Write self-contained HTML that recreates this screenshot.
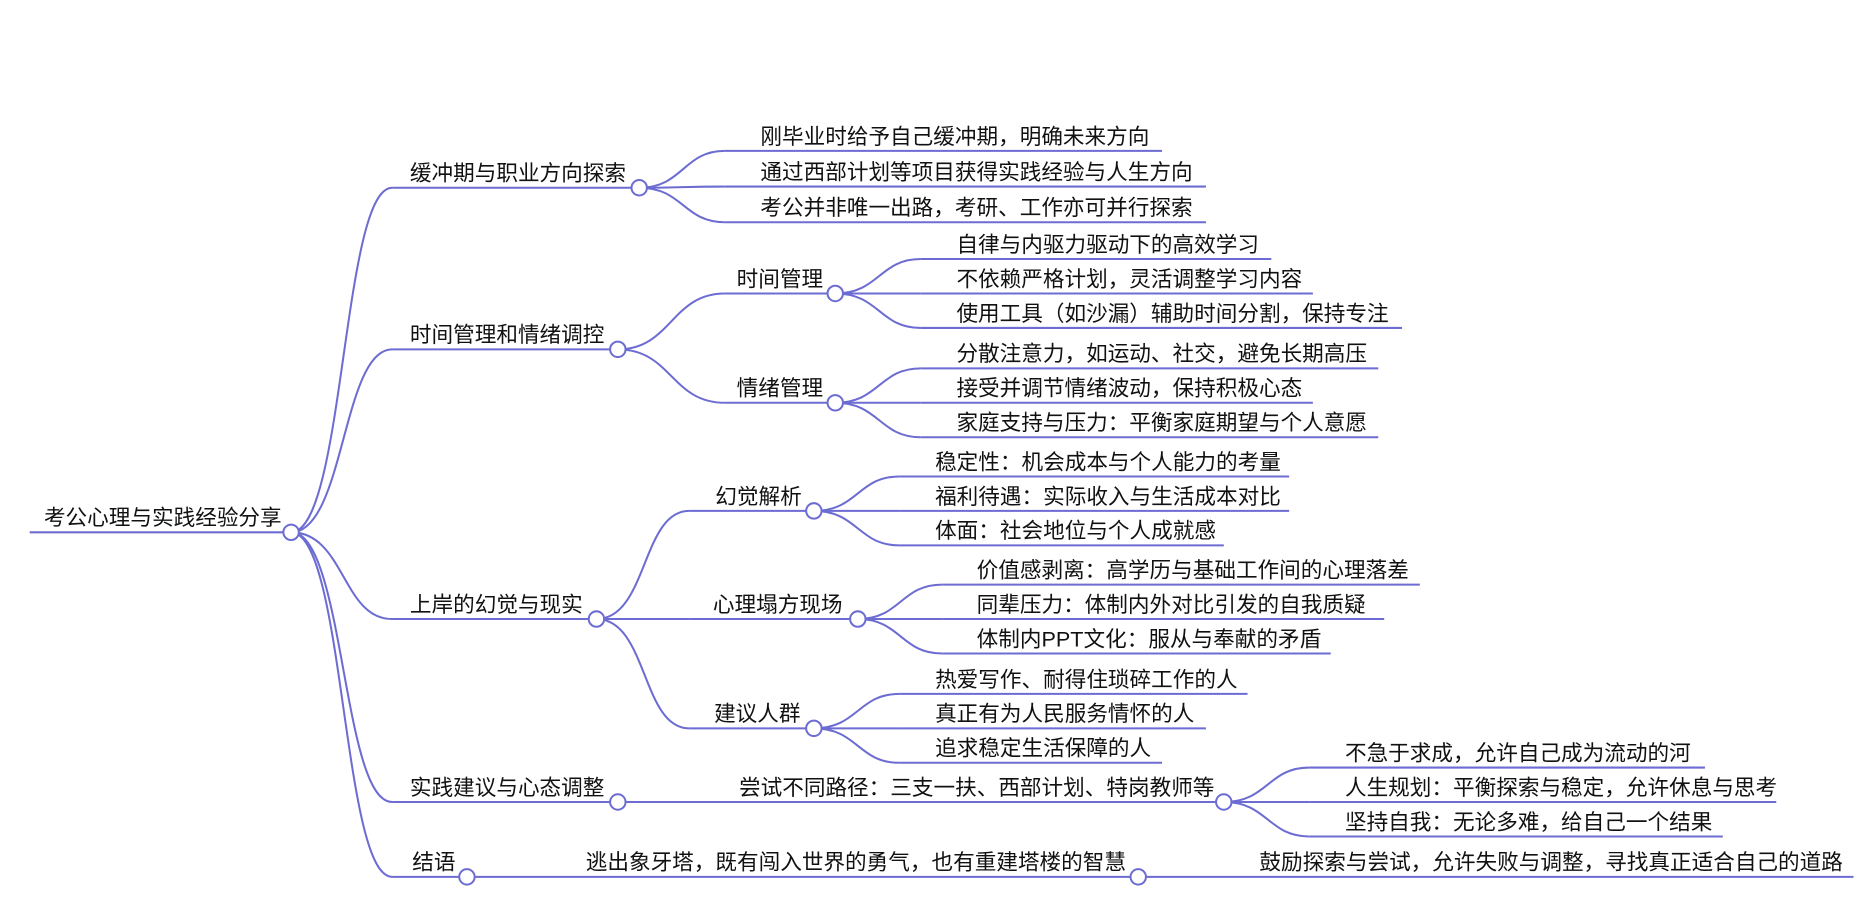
<!DOCTYPE html>
<html><head><meta charset="utf-8"><style>
html,body{margin:0;padding:0;background:#fff;}
svg{display:block}
text{font-family:"Liberation Sans","Noto Sans CJK SC",sans-serif;font-size:18.2px;fill:#111;}
</style></head><body>
<svg width="1863" height="913" viewBox="0 0 1568 768.4" xmlns="http://www.w3.org/2000/svg">
<g fill="none" stroke="#6c6cd2" stroke-width="1.7">
<line x1="25" y1="448" x2="245" y2="448"/>
<path d="M245,448 C290,448 288,158 330,158"/>
<path d="M245,448 C290,448 288,294 330,294"/>
<path d="M245,448 C290,448 288,521 330,521"/>
<path d="M245,448 C290,448 288,675 330,675"/>
<path d="M245,448 C290,448 288,738 330,738"/>
<line x1="330" y1="158" x2="538" y2="158"/>
<line x1="330" y1="294" x2="520" y2="294"/>
<line x1="330" y1="521" x2="502" y2="521"/>
<line x1="330" y1="675" x2="520" y2="675"/>
<line x1="330" y1="738" x2="393" y2="738"/>
<path d="M538,158 C575,158 575,127 610,127"/>
<path d="M538,158 C575,158 575,157 610,157"/>
<path d="M538,158 C575,158 575,187 610,187"/>
<line x1="610" y1="127" x2="978" y2="127"/>
<line x1="610" y1="157" x2="1015" y2="157"/>
<line x1="610" y1="187" x2="1015" y2="187"/>
<path d="M520,294 C565,294 565,247 610,247"/>
<path d="M520,294 C565,294 565,339 610,339"/>
<line x1="610" y1="247" x2="703" y2="247"/>
<line x1="610" y1="339" x2="703" y2="339"/>
<path d="M703,247 C740,247 740,218 775,218"/>
<path d="M703,247 C740,247 740,247 775,247"/>
<path d="M703,247 C740,247 740,276 775,276"/>
<line x1="775" y1="218" x2="1070" y2="218"/>
<line x1="775" y1="247" x2="1105" y2="247"/>
<line x1="775" y1="276" x2="1180" y2="276"/>
<path d="M703,339 C740,339 740,310 775,310"/>
<path d="M703,339 C740,339 740,339 775,339"/>
<path d="M703,339 C740,339 740,368 775,368"/>
<line x1="775" y1="310" x2="1160" y2="310"/>
<line x1="775" y1="339" x2="1105" y2="339"/>
<line x1="775" y1="368" x2="1160" y2="368"/>
<path d="M502,521 C545,521 540,430 580,430"/>
<path d="M502,521 C545,521 540,521 580,521"/>
<path d="M502,521 C545,521 540,613 580,613"/>
<line x1="580" y1="430" x2="685" y2="430"/>
<line x1="580" y1="521" x2="722" y2="521"/>
<line x1="580" y1="613" x2="685" y2="613"/>
<path d="M685,430 C722,430 722,401 757,401"/>
<path d="M685,430 C722,430 722,430 757,430"/>
<path d="M685,430 C722,430 722,459 757,459"/>
<line x1="757" y1="401" x2="1085" y2="401"/>
<line x1="757" y1="430" x2="1085" y2="430"/>
<line x1="757" y1="459" x2="1030" y2="459"/>
<path d="M722,521 C758,521 758,492 793,492"/>
<path d="M722,521 C758,521 758,521 793,521"/>
<path d="M722,521 C758,521 758,550 793,550"/>
<line x1="793" y1="492" x2="1195" y2="492"/>
<line x1="793" y1="521" x2="1165" y2="521"/>
<line x1="793" y1="550" x2="1120" y2="550"/>
<path d="M685,613 C722,613 722,584 757,584"/>
<path d="M685,613 C722,613 722,613 757,613"/>
<path d="M685,613 C722,613 722,642 757,642"/>
<line x1="757" y1="584" x2="1050" y2="584"/>
<line x1="757" y1="613" x2="1015" y2="613"/>
<line x1="757" y1="642" x2="978" y2="642"/>
<line x1="520" y1="675" x2="1030" y2="675"/>
<path d="M1030,675 C1067,675 1067,646 1102,646"/>
<path d="M1030,675 C1067,675 1067,675 1102,675"/>
<path d="M1030,675 C1067,675 1067,704 1102,704"/>
<line x1="1102" y1="646" x2="1435" y2="646"/>
<line x1="1102" y1="675" x2="1495" y2="675"/>
<line x1="1102" y1="704" x2="1450" y2="704"/>
<line x1="393" y1="738" x2="958" y2="738"/>
<line x1="958" y1="738" x2="1560" y2="738"/>
</g>
<g fill="#fff" stroke="#6c6cd2" stroke-width="1.7">
<circle cx="245" cy="448" r="6.5"/>
<circle cx="538" cy="158" r="6.5"/>
<circle cx="520" cy="294" r="6.5"/>
<circle cx="502" cy="521" r="6.5"/>
<circle cx="520" cy="675" r="6.5"/>
<circle cx="393" cy="738" r="6.5"/>
<circle cx="703" cy="247" r="6.5"/>
<circle cx="703" cy="339" r="6.5"/>
<circle cx="685" cy="430" r="6.5"/>
<circle cx="722" cy="521" r="6.5"/>
<circle cx="685" cy="613" r="6.5"/>
<circle cx="1030" cy="675" r="6.5"/>
<circle cx="958" cy="738" r="6.5"/>
</g>
<text x="37" y="442">考公心理与实践经验分享</text>
<text x="345" y="152">缓冲期与职业方向探索</text>
<text x="345" y="288">时间管理和情绪调控</text>
<text x="345" y="515">上岸的幻觉与现实</text>
<text x="345" y="669">实践建议与心态调整</text>
<text x="347" y="732">结语</text>
<text x="640" y="121">刚毕业时给予自己缓冲期，明确未来方向</text>
<text x="640" y="151">通过西部计划等项目获得实践经验与人生方向</text>
<text x="640" y="181">考公并非唯一出路，考研、工作亦可并行探索</text>
<text x="620" y="241">时间管理</text>
<text x="620" y="333">情绪管理</text>
<text x="805" y="212">自律与内驱力驱动下的高效学习</text>
<text x="805" y="241">不依赖严格计划，灵活调整学习内容</text>
<text x="805" y="270">使用工具（如沙漏）辅助时间分割，保持专注</text>
<text x="805" y="304">分散注意力，如运动、社交，避免长期高压</text>
<text x="805" y="333">接受并调节情绪波动，保持积极心态</text>
<text x="805" y="362">家庭支持与压力：平衡家庭期望与个人意愿</text>
<text x="602" y="424">幻觉解析</text>
<text x="600" y="515">心理塌方现场</text>
<text x="601" y="607">建议人群</text>
<text x="787" y="395">稳定性：机会成本与个人能力的考量</text>
<text x="787" y="424">福利待遇：实际收入与生活成本对比</text>
<text x="787" y="453">体面：社会地位与个人成就感</text>
<text x="822" y="486">价值感剥离：高学历与基础工作间的心理落差</text>
<text x="822" y="515">同辈压力：体制内外对比引发的自我质疑</text>
<text x="822" y="544">体制内PPT文化：服从与奉献的矛盾</text>
<text x="787" y="578">热爱写作、耐得住琐碎工作的人</text>
<text x="787" y="607">真正有为人民服务情怀的人</text>
<text x="787" y="636">追求稳定生活保障的人</text>
<text x="622" y="669">尝试不同路径：三支一扶、西部计划、特岗教师等</text>
<text x="1132" y="640">不急于求成，允许自己成为流动的河</text>
<text x="1132" y="669">人生规划：平衡探索与稳定，允许休息与思考</text>
<text x="1132" y="698">坚持自我：无论多难，给自己一个结果</text>
<text x="493" y="732">逃出象牙塔，既有闯入世界的勇气，也有重建塔楼的智慧</text>
<text x="1060" y="732">鼓励探索与尝试，允许失败与调整，寻找真正适合自己的道路</text>
</svg>
</body></html>
